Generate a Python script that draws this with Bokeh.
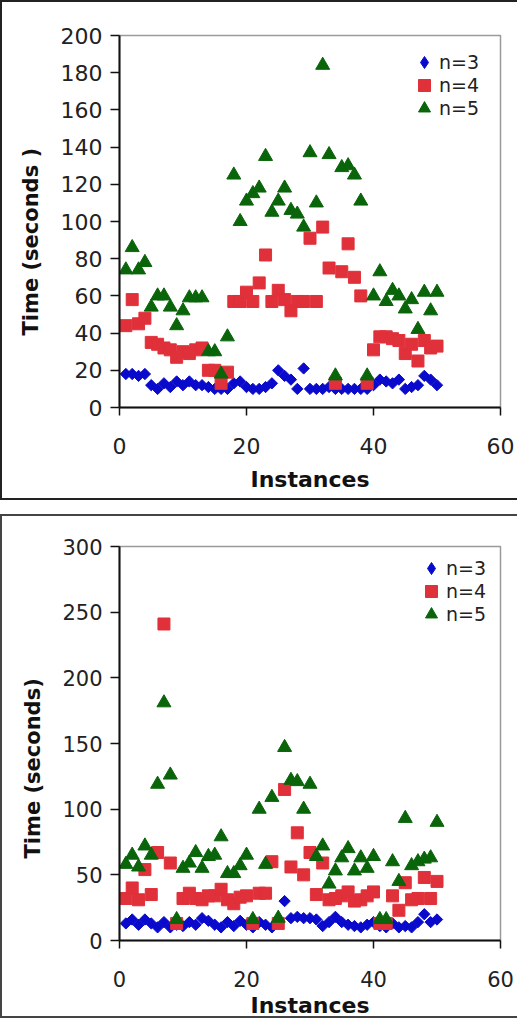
import math
from bokeh.plotting import figure
from bokeh.models import Range1d, FixedTicker, Legend, LegendItem, Title, ColumnDataSource
from bokeh.layouts import column
from bokeh.embed import file_html
from bokeh.resources import INLINE

instances = list(range(1, 51))

# ---- top chart data ----
top_n3 = [18, 18, 17, 18, 12, 10, 13, 11, 14, 12, 14, 12, 12, 11, 10, 10, 10, 13, 14, 11,
          10, 10, 11, 13, 20, 17, 15, 10, 21, 10, 10, 10, 11, 10, 10, 10, 10, 10, 10, 12,
          15, 14, 13, 15, 10, 11, 12, 17, 15, 12]
top_n4 = [44, 58, 45, 48, 35, 34, 32, 31, 27, 30, 29, 31, 32, 20, 20, 13, 19, 57, 57, 62,
          57, 67, 82, 57, 63, 58, 52, 57, 57, 91, 57, 97, 75, 13, 73, 88, 70, 60, 13, 31,
          38, 38, 37, 36, 29, 34, 25, 36, 32, 33]
top_n5 = [74, 86, 74, 78, 54, 60, 60, 54, 44, 52, 59, 59, 59, 30, 30, 18, 38, 125, 100, 111,
          115, 118, 135, 105, 111, 118, 106, 104, 97, 137, 110, 184, 136, 17, 129, 130, 125, 111, 17, 60,
          73, 57, 63, 60, 53, 58, 42, 62, 52, 62]

# ---- bottom chart data ----
bot_n3 = [13, 16, 12, 16, 13, 10, 14, 10, 12, 11, 14, 12, 17, 15, 12, 10, 14, 11, 15, 12,
          10, 14, 12, 10, 13, 30, 17, 18, 17, 17, 16, 11, 14, 18, 14, 12, 11, 10, 12, 14,
          11, 10, 13, 10, 11, 10, 14, 20, 14, 16]
bot_n4 = [32, 40, 31, 54, 35, 67, 241, 59, 13, 32, 36, 32, 31, 34, 34, 39, 31, 28, 33, 34,
          13, 36, 36, 60, 13, 115, 56, 82, 50, 67, 35, 59, 31, 32, 34, 37, 30, 31, 34, 37,
          13, 13, 34, 23, 44, 31, 32, 48, 32, 45]
bot_n5 = [58, 65, 56, 72, 65, 119, 181, 126, 16, 55, 59, 67, 55, 64, 65, 79, 51, 51, 57, 65,
          16, 100, 58, 109, 17, 147, 122, 121, 100, 119, 64, 72, 43, 53, 63, 70, 53, 63, 55, 64,
          16, 16, 60, 45, 93, 57, 60, 62, 63, 90]

series_names = ["n=3", "n=4", "n=5"]
x_ticks = [0, 20, 40, 60]
top_y_ticks = [0, 20, 40, 60, 80, 100, 120, 140, 160, 180, 200]
bot_y_ticks = [0, 50, 100, 150, 200, 250, 300]

BLUE = "#0a0acc"
RED = "#e0303a"
GREEN = "#0a650a"
FONT = "DejaVu Sans"


def make_chart(n3, n4, n5, ymax, yticks, width, height, borders, tick_fs, ylabel,
               leg_x, leg_ys, ylab_offset, box_color, xstand, xlabstand):
    bl, br, bt, bb = borders
    p = figure(width=width, height=height, output_backend="svg", toolbar_location=None,
               x_range=Range1d(0, 60), y_range=Range1d(0, ymax),
               min_border_left=bl, min_border_right=br, min_border_top=bt, min_border_bottom=bb)
    p.grid.visible = False
    p.outline_line_color = "#9a9a9a"
    p.outline_line_width = 1.5
    p.background_fill_color = "white"
    p.border_fill_color = "white"

    src = ColumnDataSource(dict(x=instances, a=n3, b=n4, c=n5))
    r3 = p.scatter("x", "a", source=src, marker="square", angle=math.pi / 4, size=8,
                   fill_color=BLUE, line_color=BLUE)
    r4 = p.scatter("x", "b", source=src, marker="square", size=12,
                   fill_color=RED, line_color=RED)
    r5 = p.scatter("x", "c", source=src, marker="triangle", size=14,
                   fill_color=GREEN, line_color=GREEN)
    # legend-only glyph for the diamond key (legend keys ignore glyph angle);
    # its single point is NaN so it never shows inside the plot
    r3_key = p.scatter(x=[float("nan")], y=[float("nan")], marker="diamond",
                       fill_color=BLUE, line_color=BLUE)

    for ax, ticks in ((p.xaxis[0], x_ticks), (p.yaxis[0], yticks)):
        ax.ticker = FixedTicker(ticks=ticks)
        ax.minor_tick_line_color = None
        ax.major_tick_in = 0
        ax.major_tick_out = 8
        ax.axis_line_color = "#111111"
        ax.axis_line_width = 2
        ax.major_tick_line_color = "#111111"
        ax.major_tick_line_width = 1.5
        ax.major_label_text_font = FONT
        ax.major_label_text_font_size = tick_fs
        ax.major_label_text_color = "#222222"
    p.yaxis.major_tick_out = 9
    p.yaxis.major_label_standoff = 8
    p.xaxis.major_label_standoff = xstand
    p.xaxis.axis_label = "Instances"
    p.xaxis.axis_label_text_font = FONT
    p.xaxis.axis_label_text_font_style = "bold"
    p.xaxis.axis_label_text_font_size = "22px"
    p.xaxis.axis_label_text_color = "#111111"
    p.xaxis.axis_label_standoff = xlabstand

    ttl = Title(text=ylabel, align="left", offset=ylab_offset, vertical_align="top",
                standoff=26, text_font=FONT, text_font_style="bold", text_font_size="21px",
                text_color="#111111")
    p.add_layout(ttl, "left")

    for name, r, ly in zip(series_names, [r3_key, r4, r5], leg_ys):
        legend = Legend(items=[LegendItem(label=name, renderers=[r])], location=(leg_x, ly))
        legend.border_line_alpha = 0
        legend.background_fill_alpha = 0
        legend.padding = 0
        legend.margin = 0
        legend.spacing = 0
        legend.glyph_width = 30
        legend.glyph_height = 30
        legend.label_height = 30
        legend.label_standoff = 0
        legend.label_text_font = FONT
        legend.label_text_font_size = "19px"
        legend.label_text_color = "#222222"
        p.add_layout(legend)

    p.styles = {"border-left": f"2px solid {box_color}",
                "border-top": f"2px solid {box_color}",
                "border-bottom": f"2px solid {box_color}"}
    return p


p1 = make_chart(top_n3, top_n4, top_n5, 200, top_y_ticks, 517, 500,
                (114, 19, 33, 95), "22px", "Time (seconds )",
                290, (330, 307, 284), 72, "#222222", 22, 10)
p2 = make_chart(bot_n3, bot_n4, bot_n5, 300, bot_y_ticks, 517, 504,
                (117, 14, 30, 77), "21px", "Time (seconds)",
                297, (357, 334, 311), 82, "#444444", 22, 3)

layout = column(p1, p2, spacing=14)
open("out.html", "w").write(file_html(layout, INLINE))
